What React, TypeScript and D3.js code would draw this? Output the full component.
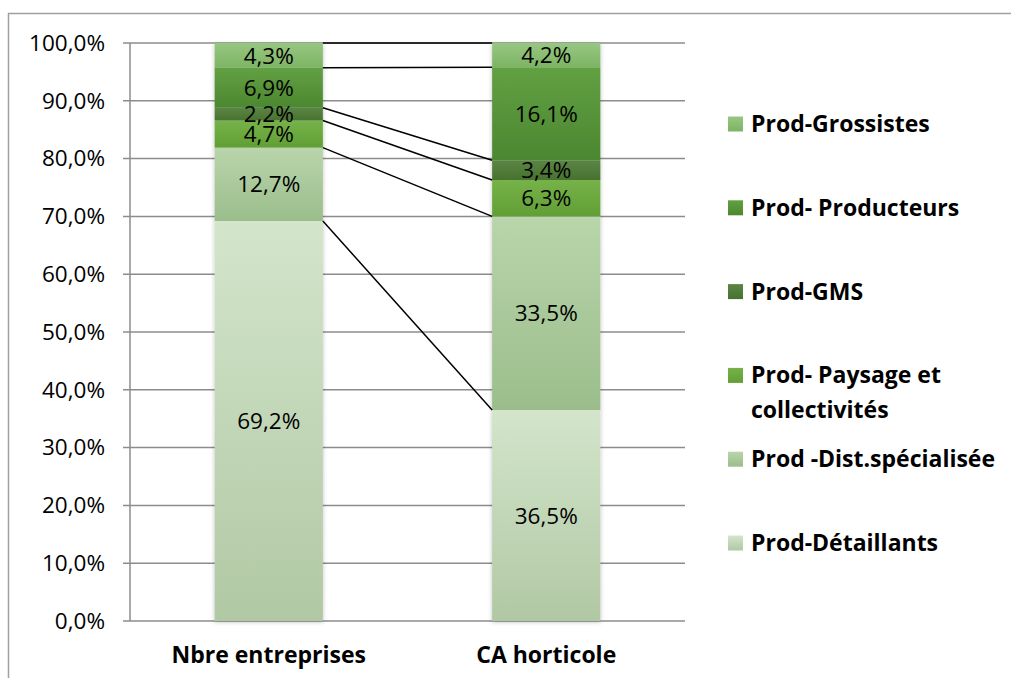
import React, { useEffect, useRef } from 'react';
import * as d3 from 'd3';

// catégories (barres)
const categories = ['Nbre entreprises', 'CA horticole'];

// séries, de bas en haut
const seriesNames = [
  'Prod-Détaillants',
  'Prod -Dist.spécialisée',
  'Prod- Paysage et collectivités',
  'Prod-GMS',
  'Prod- Producteurs',
  'Prod-Grossistes',
];

const nbreEntreprises = [69.2, 12.7, 4.7, 2.2, 6.9, 4.3];
const caHorticole = [36.5, 33.5, 6.3, 3.4, 16.1, 4.2];

const yTicks = [0, 10, 20, 30, 40, 50, 60, 70, 80, 90, 100];

// dégradés (haut, bas)
const seriesColors: [string, string][] = [
  ['#d3e5cb', '#b1c8a4'],
  ['#b9d5ab', '#9bbd8b'],
  ['#76b249', '#619f35'],
  ['#5b8545', '#48722f'],
  ['#62a043', '#4c8730'],
  ['#97c781', '#7db464'],
];

const fmt = (v: number) => v.toFixed(1).replace('.', ',') + '%';

export default function App() {
  const svgRef = useRef<SVGSVGElement | null>(null);

  useEffect(() => {
    if (!svgRef.current) return;
    const svg = d3.select(svgRef.current);
    svg.selectAll('*').remove();

    const font = '"Open Sans", "Noto Sans", sans-serif';
    const margin = { top: 43, bottom: 621, left: 130, right: 685 };

    const x = d3.scaleBand().domain(categories).range([margin.left, margin.right]).paddingInner(0.61).paddingOuter(0.305);
    const y = d3.scaleLinear().domain([0, 100]).range([margin.bottom, margin.top]);

    const defs = svg.append('defs');
    seriesColors.forEach((c, i) => {
      const g = defs.append('linearGradient').attr('id', `grad${i}`).attr('x1', 0).attr('y1', 0).attr('x2', 0).attr('y2', 1);
      g.append('stop').attr('offset', '0%').attr('stop-color', c[0]);
      g.append('stop').attr('offset', '100%').attr('stop-color', c[1]);
    });
    const filter = defs.append('filter').attr('id', 'shadow').attr('x', '-10%').attr('y', '-10%').attr('width', '120%').attr('height', '120%');
    filter.append('feDropShadow').attr('dx', 0).attr('dy', 1).attr('stdDeviation', 2).attr('flood-color', '#000').attr('flood-opacity', 0.25);

    // cadre
    svg.append('rect')
      .attr('x', 8.5).attr('y', 13.5).attr('width', 1100).attr('height', 1000)
      .attr('fill', 'none').attr('stroke', '#a0a0a0').attr('stroke-width', 1.5);

    // grille
    svg.append('g')
      .selectAll('line')
      .data(yTicks)
      .join('line')
      .attr('x1', margin.left - 7)
      .attr('x2', margin.right)
      .attr('y1', (d) => y(d))
      .attr('y2', (d) => y(d))
      .attr('stroke', '#8c8c8c')
      .attr('stroke-width', 1.5);

    svg.append('line')
      .attr('x1', margin.left).attr('x2', margin.left)
      .attr('y1', margin.top).attr('y2', margin.bottom)
      .attr('stroke', '#8c8c8c').attr('stroke-width', 1.5);

    svg.append('g')
      .selectAll('text')
      .data(yTicks)
      .join('text')
      .attr('x', 105)
      .attr('y', (d) => y(d))
      .attr('dy', '0.35em')
      .attr('text-anchor', 'end')
      .attr('font-family', font)
      .attr('font-size', 22.5)
      .attr('fill', '#000')
      .text((d) => fmt(d));

    const values = [nbreEntreprises, caHorticole];
    const stacked = values.map((vals) => {
      let acc = 0;
      return vals.map((v, i) => {
        const y0 = acc;
        acc += v;
        return { i, v, y0, y1: acc };
      });
    });

    // barres
    categories.forEach((cat, ci) => {
      const g = svg.append('g').attr('filter', 'url(#shadow)');
      g.selectAll('rect')
        .data(stacked[ci])
        .join('rect')
        .attr('x', x(cat) ?? 0)
        .attr('width', x.bandwidth())
        .attr('y', (d) => y(d.y1))
        .attr('height', (d) => y(d.y0) - y(d.y1))
        .attr('fill', (d) => `url(#grad${d.i})`);
    });

    // lignes de séries
    const xa = (x(categories[0]) ?? 0) + x.bandwidth();
    const xb = x(categories[1]) ?? 0;
    svg.append('g')
      .selectAll('line')
      .data(stacked[0])
      .join('line')
      .attr('x1', xa)
      .attr('x2', xb)
      .attr('y1', (d) => y(d.y1))
      .attr('y2', (d, i) => y(stacked[1][i].y1))
      .attr('stroke', '#000')
      .attr('stroke-width', 1.5);

    // étiquettes
    categories.forEach((cat, ci) => {
      svg.append('g')
        .selectAll('text')
        .data(stacked[ci])
        .join('text')
        .attr('x', (x(cat) ?? 0) + x.bandwidth() / 2)
        .attr('y', (d) => y((d.y0 + d.y1) / 2))
        .attr('dy', '0.36em')
        .attr('text-anchor', 'middle')
        .attr('font-family', font)
        .attr('font-size', 22.5)
        .attr('fill', '#000')
        .text((d) => fmt(d.v));
    });

    // catégories
    svg.append('g')
      .selectAll('text')
      .data(categories)
      .join('text')
      .attr('x', (d) => (x(d) ?? 0) + x.bandwidth() / 2)
      .attr('y', 655)
      .attr('dy', '0.35em')
      .attr('text-anchor', 'middle')
      .attr('font-family', font)
      .attr('font-size', 23)
      .attr('font-weight', 'bold')
      .attr('fill', '#000')
      .text((d) => d);

    // légende (de haut en bas)
    const legendRows = [5, 4, 3, 2, 1, 0];
    const ly = d3.scalePoint().domain(legendRows.map(String)).range([124, 543]);
    const legend = svg.append('g')
      .selectAll('g')
      .data(legendRows)
      .join('g')
      .attr('transform', (d) => `translate(728, ${ly(String(d))})`);

    legend.append('rect')
      .attr('x', 0).attr('y', -7.5)
      .attr('width', 15).attr('height', 15)
      .attr('fill', (d) => `url(#grad${d})`);

    legend.each(function (d) {
      const t = d3.select(this).append('text')
        .attr('x', 23)
        .attr('font-family', font)
        .attr('font-size', 23)
        .attr('font-weight', 'bold')
        .attr('fill', '#000');
      if (d === 2) {
        t.append('tspan').attr('x', 23).attr('dy', '0.35em').text('Prod- Paysage et');
        t.append('tspan').attr('x', 23).attr('dy', '1.5em').text('collectivités');
      } else {
        t.attr('dy', '0.35em').text(seriesNames[d]);
      }
    });
  }, []);

  return (
    <svg
      ref={svgRef}
      width={1011}
      height={678}
      style={{ position: 'absolute', left: 0, top: 0, background: '#fff' }}
    />
  );
}
